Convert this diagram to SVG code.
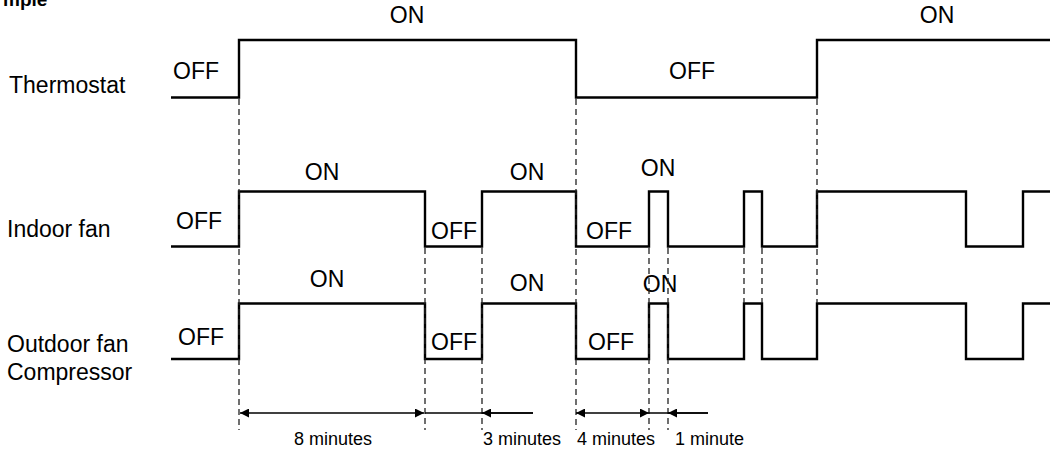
<svg xmlns="http://www.w3.org/2000/svg" width="1050" height="452" viewBox="0 0 1050 452">
<defs>
<style>
text{font-family:"Liberation Sans",Arial,sans-serif;fill:#000}
.lbl{font-size:23px}
.st{font-size:23px}
.sm{font-size:18px}
.sig{fill:none;stroke:#000;stroke-width:2.4;stroke-linejoin:miter}
.dash{fill:none;stroke:#222;stroke-width:1.3;stroke-dasharray:6 4}
.dim{fill:none;stroke:#000;stroke-width:1.3}
</style>
<marker id="ah" viewBox="0 0 10 10" refX="10" refY="5" markerWidth="11" markerHeight="9" markerUnits="userSpaceOnUse" orient="auto-start-reverse">
<path d="M0,0 L10,5 L0,10 Z" fill="#000"/>
</marker>
</defs>
<text x="3" y="6" style="font-size:19px;font-weight:bold">mple</text>

<g id="thermostat">
<text class="lbl" x="9" y="93">Thermostat</text>
<path class="sig" d="M171,97.5 H239 V40 H576 V97.5 H817 V40 H1050"/>
<text class="st" x="173" y="79">OFF</text>
<text class="st" x="407" y="23" text-anchor="middle">ON</text>
<text class="st" x="692" y="79" text-anchor="middle">OFF</text>
<text class="st" x="937" y="23" text-anchor="middle">ON</text>
</g>

<g id="indoor-fan">
<text class="lbl" x="7" y="237">Indoor fan</text>
<path class="sig" d="M171,246.5 H239 V191.5 H425 V246.5 H482 V191.5 H576 V246.5 H649 V191.5 H668 V246.5 H744 V191.5 H762 V246.5 H817 V191.5 H966 V246.5 H1023 V191.5 H1050"/>
<text class="st" x="176" y="229">OFF</text>
<text class="st" x="322" y="180" text-anchor="middle">ON</text>
<text class="st" x="431" y="239">OFF</text>
<text class="st" x="527" y="180" text-anchor="middle">ON</text>
<text class="st" x="586" y="239">OFF</text>
<text class="st" x="658" y="176" text-anchor="middle">ON</text>
</g>

<g id="outdoor-fan-compressor">
<text class="lbl" x="7" y="352">Outdoor fan</text>
<text class="lbl" x="7" y="380">Compressor</text>
<path class="sig" d="M171,359 H239 V303.5 H425 V359 H482 V303.5 H576 V359 H649 V303.5 H668 V359 H744 V303.5 H762 V359 H817 V303.5 H966 V359 H1023 V303.5 H1050"/>
<text class="st" x="178" y="345">OFF</text>
<text class="st" x="327" y="287" text-anchor="middle">ON</text>
<text class="st" x="431" y="350">OFF</text>
<text class="st" x="527" y="291" text-anchor="middle">ON</text>
<text class="st" x="588" y="350">OFF</text>
<text class="st" x="660" y="292" text-anchor="middle">ON</text>
</g>

<g id="connectors">
<path class="dash" d="M239,99 V430"/>
<path class="dash" d="M576,99 V430"/>
<path class="dash" d="M817,99 V303"/>
<path class="dash" d="M425,248 V430"/>
<path class="dash" d="M482,248 V430"/>
<path class="dash" d="M649,248 V430"/>
<path class="dash" d="M668,248 V430"/>
<path class="dash" d="M744,248 V303"/>
<path class="dash" d="M762,248 V303"/>
<path class="dim" d="M240,413 H424" marker-start="url(#ah)" marker-end="url(#ah)"/>
<path class="dim" d="M425,413 H533"/>
<path class="dim" d="M533,413 H482" marker-end="url(#ah)"/>
<path class="dim" d="M576,413 H649" marker-start="url(#ah)" marker-end="url(#ah)"/>
<path class="dim" d="M649,413 H708"/>
<path class="dim" d="M708,413 H668" marker-end="url(#ah)"/>
</g>

<g id="durations">
<text class="sm" x="294" y="445">8 minutes</text>
<text class="sm" x="483" y="445">3 minutes</text>
<text class="sm" x="577" y="445">4 minutes</text>
<text class="sm" x="675" y="445">1 minute</text>
</g>
</svg>
